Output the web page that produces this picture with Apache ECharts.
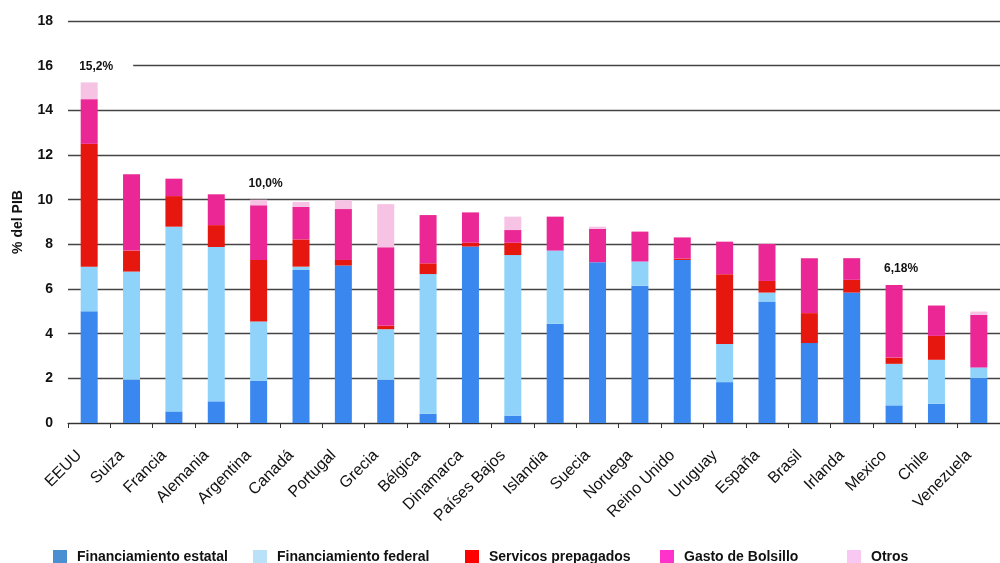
<!DOCTYPE html>
<html>
<head>
<meta charset="utf-8">
<script src="https://cdn.jsdelivr.net/npm/echarts@6/dist/echarts.min.js"></script>
<style>
  html, body { margin: 0; padding: 0; background: #fff; }
  #chart { width: 1000px; height: 563px; }
</style>
</head>
<body>
<div id="chart"></div>
<script>
// Gasto en salud como % del PIB, por fuente de financiamiento
const categories = ['EEUU', 'Suiza', 'Francia', 'Alemania', 'Argentina', 'Canadá', 'Portugal', 'Grecia',
  'Bélgica', 'Dinamarca', 'Países Bajos', 'Islandia', 'Suecia', 'Noruega', 'Reino Unido', 'Uruguay',
  'España', 'Brasil', 'Irlanda', 'Mexico', 'Chile', 'Venezuela'];

const estatal    = [5.0, 1.95, 0.52, 0.97, 1.9, 6.85, 7.05, 1.94, 0.42, 7.9, 0.33, 4.44, 7.2, 6.15, 7.3, 1.83, 5.44, 3.58, 5.84, 0.79, 0.86, 2.01];
const federal    = [2.0, 4.83, 8.27, 6.91, 2.65, 0.15, 0, 2.26, 6.25, 0, 7.19, 3.28, 0, 1.08, 0, 1.71, 0.4, 0, 0, 1.86, 1.97, 0.48];
const prepagados = [5.5, 0.94, 1.37, 0.98, 2.75, 1.22, 0.25, 0.15, 0.48, 0.17, 0.55, 0, 0, 0, 0.06, 3.12, 0.52, 1.34, 0.57, 0.28, 1.07, 0];
const bolsillo   = [2.0, 3.42, 0.78, 1.38, 2.45, 1.46, 2.28, 3.52, 2.16, 1.36, 0.57, 1.52, 1.49, 1.34, 0.95, 1.46, 1.66, 2.46, 0.97, 3.25, 1.36, 2.35];
const otros      = [0.75, 0, 0, 0, 0.25, 0.22, 0.4, 1.93, 0, 0, 0.6, 0, 0.1, 0, 0, 0, 0, 0, 0, 0, 0, 0.15];

// Totals written above selected bars
const totalLabels = ['15,2%', '', '', '', '10,0%', '', '', '', '', '', '', '', '', '', '', '', '', '', '', '6,18%', '', ''];

const yTicks = { min: 0, max: 18, interval: 2 };

const FONT = '"Liberation Sans", Arial, sans-serif';

const seriesDefs = [
  { name: 'Financiamiento estatal', data: estatal,    color: '#3a87f0', legendColor: '#4a8fd2' },
  { name: 'Financiamiento federal', data: federal,    color: '#8fd3fa', legendColor: '#b9e2f8' },
  { name: 'Servicos prepagados',    data: prepagados, color: '#e6170f', legendColor: '#ff0000' },
  { name: 'Gasto de Bolsillo',      data: bolsillo,   color: '#ea2795', legendColor: '#ff33cc' },
  { name: 'Otros',                  data: otros,      color: '#f6c3e5', legendColor: '#f8c8f2' }
];

// Find the topmost non-empty segment of each bar, so the total label sits on it
const topSeries = categories.map((_, i) => {
  let top = 0;
  seriesDefs.forEach((s, k) => { if (s.data[i] > 0) top = k; });
  return top;
});

const series = seriesDefs.map((s, k) => ({
  name: s.name,
  type: 'bar',
  stack: 'total',
  barWidth: 17,
  itemStyle: { color: s.color },
  emphasis: { disabled: true },
  data: s.data.map((v, i) => {
    if (totalLabels[i] && topSeries[i] === k) {
      return {
        value: v,
        label: {
          show: true,
          position: 'top',
          distance: 8,
          offset: [11, 0],
          formatter: totalLabels[i],
          fontFamily: FONT,
          fontWeight: 'bold',
          fontSize: 12,
          color: '#111',
          backgroundColor: '#fff',
          padding: [2, 20, 2, 12]
        }
      };
    }
    return v;
  })
}));

// One legend block per entry so each one keeps its own slot along the bottom
const legendLefts = [48, 248, 460, 655, 842];
const legends = seriesDefs.map((s, k) => ({
  left: legendLefts[k],
  top: 545,
  itemWidth: 14,
  itemHeight: 14,
  selectedMode: false,
  icon: 'rect',
  textStyle: {
    fontFamily: FONT,
    fontWeight: 'bold',
    fontSize: 14,
    color: '#111',
    padding: [0, 0, 0, 5]
  },
  data: [{ name: s.name, itemStyle: { color: s.legendColor } }]
}));

const chart = echarts.init(document.getElementById('chart'), null, { renderer: 'canvas' });
chart.setOption({
  animation: false,
  backgroundColor: '#fff',
  grid: { left: 68, top: 21, width: 942, height: 402 },
  legend: legends,
  xAxis: {
    type: 'category',
    data: categories,
    boundaryGap: true,
    axisLine: { lineStyle: { color: '#333', width: 1.2 } },
    axisTick: { show: true, interval: 0, length: 5, lineStyle: { color: '#333' } },
    axisLabel: {
      interval: 0,
      rotate: 45,
      margin: 20,
      padding: [0, 14, 0, 0],
      fontFamily: FONT,
      fontSize: 16,
      color: '#111'
    }
  },
  yAxis: {
    type: 'value',
    min: yTicks.min,
    max: yTicks.max,
    interval: yTicks.interval,
    name: '% del PIB',
    nameLocation: 'middle',
    nameGap: 43,
    nameTextStyle: { fontFamily: FONT, fontWeight: 'bold', fontSize: 14, color: '#111' },
    axisLine: { show: false },
    axisTick: { show: false },
    axisLabel: { fontFamily: FONT, fontWeight: 'bold', fontSize: 14, color: '#111', margin: 15 },
    splitLine: { lineStyle: { color: '#444', width: 1.4 } }
  },
  series: series
});
</script>
</body>
</html>
